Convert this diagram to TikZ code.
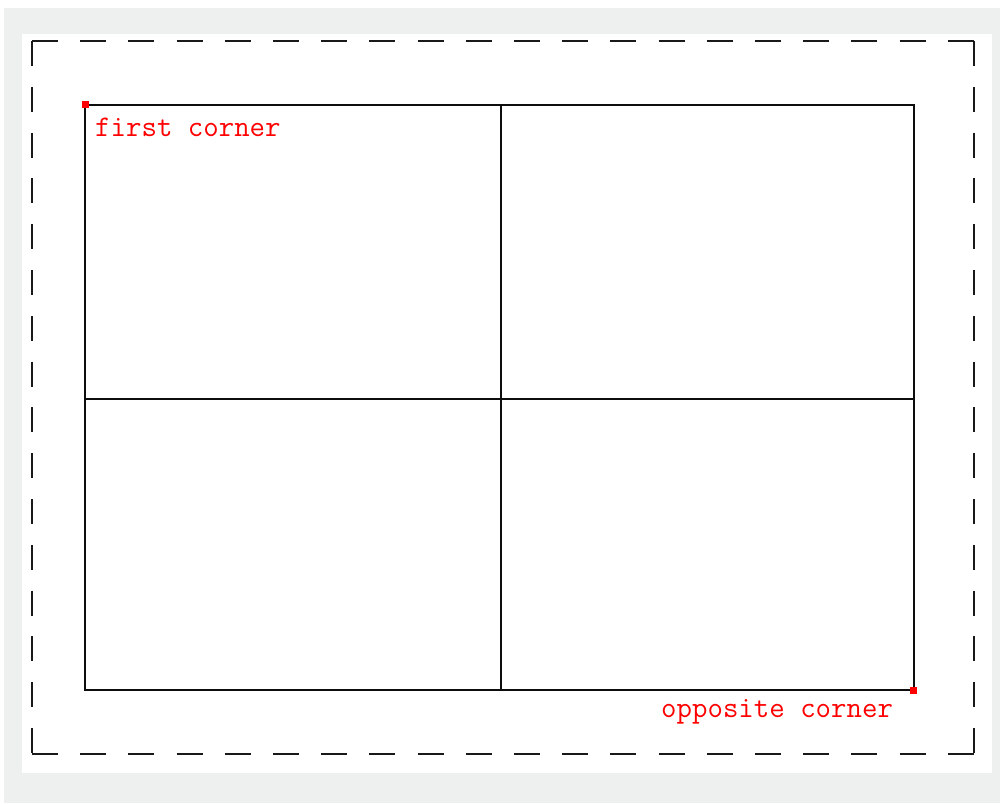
\documentclass[tikz,border=0pt]{standalone}
\usepackage{fontspec}
\definecolor{bggray}{HTML}{EEEFEF}
\definecolor{corner}{HTML}{FF0000}
\begin{document}
\begin{tikzpicture}[x=1pt,y=-1pt,
  gridline/.style={draw=black!95,line width=2.3pt},
  hdash/.style={draw=black!90,line width=2.5pt,dash pattern=on 26pt off 22.2pt},
  vdash/.style={draw=black!90,line width=2.5pt,dash pattern=on 25pt off 20.8pt},
  dot/.style={fill=corner,minimum size=7pt,inner sep=0pt,draw=none,rectangle},
  lbl/.style={text=corner,font=\ttfamily\fontsize{30}{30}\selectfont,inner sep=0pt,anchor=base west}]
\useasboundingbox (0,0) rectangle (1000,803);
\fill[white] (0,0) rectangle (1000,803);
\fill[bggray] (4,8) rectangle (1000,803);
\fill[white] (22,34) rectangle (992,773);
\coordinate (o1) at (32,41);
\coordinate (o2) at (974,41);
\coordinate (o3) at (974,754);
\coordinate (o4) at (32,754);
\draw[hdash] (o1) -- (o2);
\draw[hdash] (o4) -- (o3);
\draw[vdash] (o1) -- (o4);
\draw[vdash] (o2) -- (o3);
\coordinate (tl) at (85,105);
\coordinate (br) at (914,690);
\coordinate (mt) at (501,105);
\coordinate (mb) at (501,690);
\coordinate (ml) at (85,399);
\coordinate (mr) at (914,399);
\draw[gridline] (tl) rectangle (br);
\draw[gridline] (mt) -- (mb);
\draw[gridline] (ml) -- (mr);
\node[dot] (d1) at (85,104.5) {};
\node[dot] (d2) at (913,690) {};
\node[lbl] (t1) at (95,136) {first corner};
\node[lbl] (t2) at (661,717) {opposite corner};
\end{tikzpicture}
\end{document}
